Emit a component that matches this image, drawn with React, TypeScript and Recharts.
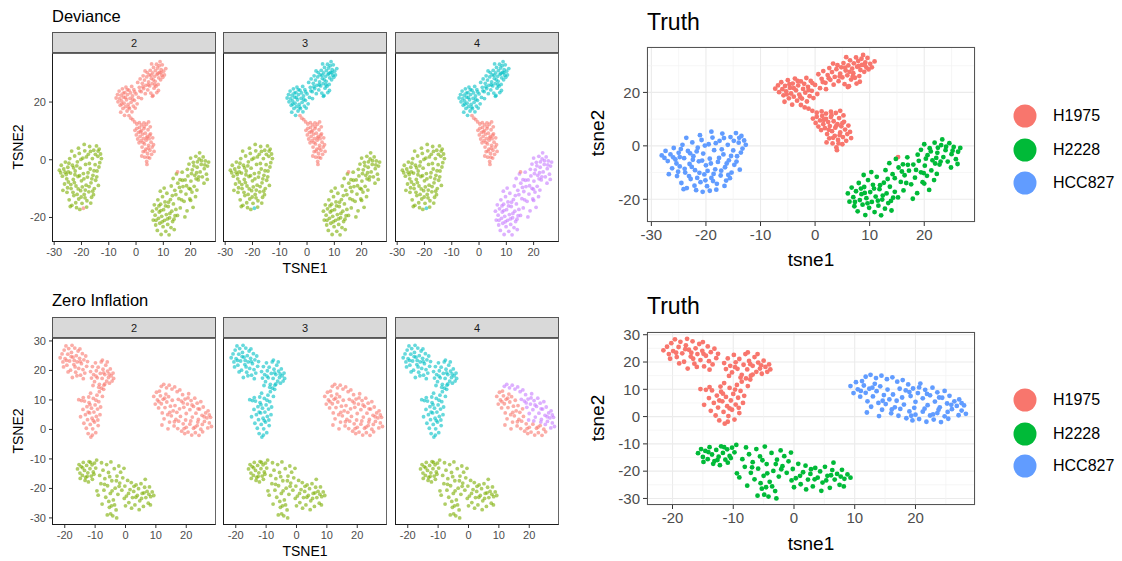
import React from "react";
import { ScatterChart, Scatter, XAxis, YAxis, CartesianGrid, ReferenceLine } from "recharts";

type Pt = [number, number];

// ---- top embedding (Deviance facets + upper Truth) ----
const dH1975Upper: Pt[] = [
  [0.6, 26.8], [1.2, 25.1], [1.5, 28.0], [1.9, 23.6], [2.3, 26.5], [2.6, 29.1], [2.8, 24.7], [3.1, 27.6], [3.4, 22.9], [3.6, 25.8],
  [3.9, 28.7], [4.1, 30.2], [4.3, 24.2], [4.6, 27.0], [4.8, 29.4], [5.0, 25.6], [5.2, 31.0], [5.4, 23.1], [5.6, 28.2], [5.9, 26.4],
  [6.1, 30.1], [6.2, 22.3], [6.4, 32.0], [6.6, 24.8], [6.8, 28.9], [7.0, 27.2], [7.1, 30.9], [7.3, 25.5], [7.5, 33.1], [7.7, 29.6],
  [7.9, 31.8], [8.1, 26.1], [8.3, 28.4], [8.5, 32.6], [8.6, 30.3], [8.8, 34.0], [9.0, 27.7], [9.2, 31.2], [9.4, 29.3], [9.6, 32.9],
  [9.8, 28.6], [10.1, 30.7], [10.4, 29.4], [10.9, 31.6], [6.0, 22.0], [2.0, 21.2], [8.2, 24.0], [3.3, 30.8], [5.7, 33.2], [7.6, 23.3],
  [2.5, 25.3], [4.5, 26.0], [5.5, 29.3], [6.9, 26.0], [8.0, 29.9], [9.1, 30.2], [6.3, 27.7],
  [-7.3, 21.4], [-6.8, 22.6], [-6.6, 20.1], [-6.2, 23.8], [-6.0, 21.2], [-5.8, 18.9], [-5.5, 22.4], [-5.3, 20.4], [-5.0, 24.6], [-4.8, 17.8],
  [-4.6, 21.7], [-4.4, 19.6], [-4.1, 23.3], [-3.9, 18.4], [-3.7, 25.2], [-3.5, 20.8], [-3.3, 16.9], [-3.1, 22.6], [-2.9, 19.2], [-2.6, 24.1],
  [-2.4, 17.7], [-2.2, 21.3], [-2.0, 23.2], [-1.8, 19.9], [-1.5, 16.6], [-1.3, 22.1], [-1.0, 18.6], [-0.8, 24.3], [-0.6, 20.6], [-0.3, 17.9],
  [0.0, 22.8], [0.4, 19.4], [0.9, 21.6], [-5.6, 16.5], [-4.2, 15.4], [1.4, 23.9], [-1.6, 25.4],
  [-5.2, 19.3], [-3.9, 21.6], [-2.7, 18.2], [-1.2, 20.9], [-4.7, 23.1], [-0.5, 23.5], [-3.2, 24.3],
];
const dH1975Lower: Pt[] = [
  [-2.6, 15.3], [-1.9, 14.4], [-1.2, 13.9], [-0.5, 13.1], [0.3, 12.4], [1.2, 12.9], [2.0, 12.1], [2.9, 12.8], [3.8, 12.3], [4.6, 13.1],
  [-0.4, 10.2], [0.1, 8.6], [0.3, 10.9], [0.6, 7.2], [0.9, 9.5], [1.1, 5.9], [1.3, 11.2], [1.5, 8.1], [1.8, 6.6], [2.0, 10.1],
  [2.2, 4.4], [2.4, 8.9], [2.6, 2.8], [2.7, 7.4], [2.9, 10.8], [3.1, 5.5], [3.2, 0.9], [3.4, 9.2], [3.6, 3.7], [3.7, 6.8],
  [3.9, -0.6], [4.1, 8.1], [4.2, 2.2], [4.4, 10.4], [4.6, 5.0], [4.8, 7.3], [5.0, 0.6], [5.1, 3.3], [5.3, 9.0], [5.5, 6.1],
  [5.7, 1.9], [5.9, 4.4], [6.1, 7.6], [6.4, 5.2], [6.6, 2.9], [4.0, -1.6], [2.1, 1.3], [5.2, 11.4],
  [1.6, 9.7], [2.5, 6.0], [3.3, 3.0], [3.9, 7.6], [4.5, 4.0], [5.0, 8.5], [3.0, 11.5], [4.3, 0.9],
];
const dH1975Stray: Pt[] = [[15.2, -4.2]];
const dHCC827: Pt[] = [
  [-28.1, -3.6], [-27.4, -1.9], [-27.0, -5.7], [-26.5, -3.2], [-26.2, -8.4], [-25.9, -0.8], [-25.6, -5.1], [-25.3, -11.3], [-25.0, -2.6], [-24.8, -7.7],
  [-24.5, -13.9], [-24.3, 0.4], [-24.0, -4.6], [-23.8, -10.0], [-23.5, -15.8], [-23.3, -1.9], [-23.0, -6.8], [-22.8, -12.4], [-22.5, 1.3], [-22.3, -3.9],
  [-22.0, -9.1], [-21.8, -16.6], [-21.5, -0.7], [-21.3, -5.8], [-21.0, -13.6], [-20.8, 2.2], [-20.5, -2.9], [-20.3, -10.7], [-20.0, -7.3], [-19.8, -15.1],
  [-19.5, 0.6], [-19.3, -4.8], [-19.0, -12.0], [-18.8, 3.1], [-18.5, -1.6], [-18.3, -8.8], [-18.0, -14.2], [-17.8, -6.0], [-17.5, 1.9], [-17.3, -11.1],
  [-17.0, 4.6], [-16.8, -3.2], [-16.5, -8.0], [-16.3, -13.0], [-16.0, 0.4], [-15.8, -5.4], [-15.5, 3.3], [-15.3, -10.0], [-15.0, -1.7], [-14.8, -7.1],
  [-14.5, 4.8], [-14.3, -3.9], [-14.0, 1.2], [-13.8, -8.9], [-13.5, 3.7], [-13.3, -1.0], [-13.0, 2.0], [-12.7, 0.4], [-26.8, -10.6], [-24.1, -16.2],
  [-22.1, -14.9], [-20.6, -17.2], [-18.1, -16.4], [-16.6, -15.0], [-21.1, 4.0], [-19.0, 5.3], [-17.1, -1.3], [-20.1, -12.9], [-22.6, -7.9], [-25.1, -9.7],
  [-23.6, 3.0], [-18.6, -10.5], [-15.6, -12.1],
  [-27.6, -4.5], [-26.0, -4.3], [-25.4, -6.6], [-24.6, -1.2], [-23.9, -8.6], [-23.1, -11.3], [-22.4, -5.2], [-21.7, -2.1], [-21.2, -10.1], [-20.7, -5.5],
  [-20.2, 0.1], [-19.7, -9.4], [-19.1, -6.6], [-18.7, -13.2], [-18.2, 1.0], [-17.6, -4.5], [-17.2, -9.3], [-16.7, 2.9], [-16.2, -6.6], [-15.9, -10.9],
  [-15.4, -3.8], [-14.9, 1.9], [-14.4, -5.9], [-13.9, 3.0], [-13.6, -2.5], [-22.9, -2.8], [-24.8, -4.2], [-21.6, -12.0],
];
const dHCC827Stray: Pt[] = [[-19.3, -16.8]];
const dH2228: Pt[] = [
  [6.0, -17.8], [6.3, -20.9], [6.7, -15.6], [7.0, -19.2], [7.2, -22.6], [7.5, -17.0], [7.8, -24.5], [8.0, -13.9], [8.2, -20.3], [8.5, -18.1],
  [8.7, -22.0], [9.0, -15.4], [9.2, -25.9], [9.4, -19.6], [9.7, -12.8], [9.9, -23.2], [10.1, -17.3], [10.4, -21.0], [10.6, -14.6], [10.9, -24.8],
  [11.1, -19.0], [11.3, -11.6], [11.6, -22.4], [11.8, -16.2], [12.1, -26.0], [12.3, -20.1], [12.6, -13.8], [12.8, -23.5], [13.1, -17.8], [13.4, -21.4],
  [13.7, -15.3], [14.0, -24.2], [14.3, -19.4], [14.6, -12.1], [8.9, -10.9], [10.3, -9.8],
  [7.3, -21.0], [8.4, -16.0], [9.6, -21.5], [10.8, -16.0], [11.5, -20.5], [12.4, -18.6], [13.3, -12.4], [9.1, -17.6], [11.9, -14.7], [13.9, -20.6],
  [12.9, -9.1], [13.6, -6.5], [14.2, -10.6], [14.8, -4.9], [15.3, -8.1], [15.7, -13.5], [16.1, -6.9], [16.4, -11.0], [16.9, -4.3], [17.2, -9.3],
  [17.6, -14.4], [18.0, -7.0], [18.3, -11.9], [18.7, -17.7], [19.0, -5.6], [19.4, -9.9], [19.7, -13.6], [20.1, -7.4], [20.5, -11.2], [20.9, -16.5],
  [21.3, -9.2], [21.8, -12.8], [22.3, -10.5], [16.2, -16.7], [15.2, -19.3], [17.9, -19.8], [14.6, -17.2], [18.8, -3.3], [20.0, -14.1], [22.0, -6.6],
  [15.9, -9.6], [17.0, -7.1], [18.5, -9.0], [19.9, -10.2], [16.7, -13.9],
  [19.4, -1.5], [20.0, 0.6], [20.6, -3.5], [21.0, -0.9], [21.5, -5.4], [21.9, 1.2], [22.4, -2.6], [22.8, -7.0], [23.1, 0.3], [23.5, -4.2],
  [23.9, -1.6], [24.3, -5.9], [24.6, 1.0], [25.0, -3.1], [25.4, -0.4], [25.8, -5.0], [26.2, -2.2], [26.6, -0.8], [24.9, -8.1], [23.3, 2.4],
  [26.1, -6.8], [22.2, -4.5], [21.2, -2.1], [23.0, -5.9], [24.0, -0.3], [25.2, -1.8], [22.5, -0.7], [20.3, -4.8],
];

// ---- bottom embedding (Zero Inflation facets + lower Truth) ----
const zH1975: Pt[] = [
  [-21.5, 24.3], [-20.9, 25.6], [-20.6, 22.9], [-20.2, 26.9], [-19.9, 24.0], [-19.6, 28.3], [-19.3, 21.8], [-19.0, 25.5], [-18.7, 27.4], [-18.4, 23.2],
  [-18.1, 20.1], [-17.8, 26.1], [-17.5, 17.6], [-17.3, 24.5], [-17.0, 22.0], [-16.7, 27.6], [-16.4, 19.4], [-16.2, 25.0], [-15.9, 22.9], [-15.6, 26.6],
  [-15.4, 20.7], [-15.1, 24.1], [-14.8, 18.4], [-14.5, 22.3], [-14.2, 25.7], [-14.0, 20.3], [-13.7, 23.6], [-13.4, 19.1], [-13.1, 24.9], [-12.8, 21.4],
  [-12.5, 23.0], [-18.9, 19.5], [-16.0, 18.2], [-20.4, 21.2], [-17.6, 28.5], [-15.0, 27.3], [-13.9, 17.2], [-16.9, 23.4],
  [-19.4, 23.4], [-17.9, 24.7], [-16.6, 21.2], [-14.9, 23.0],
  [-11.5, 19.6], [-11.2, 17.4], [-10.9, 21.3], [-10.5, 18.6], [-10.2, 16.2], [-9.9, 22.6], [-9.6, 19.9], [-9.3, 17.5], [-9.0, 21.1], [-8.6, 15.3],
  [-8.3, 19.0], [-8.0, 22.9], [-7.7, 17.3], [-7.4, 20.4], [-7.1, 15.0], [-6.8, 18.6], [-6.5, 21.8], [-6.2, 16.4], [-5.9, 19.8], [-5.6, 17.6],
  [-5.3, 15.7], [-5.0, 20.5], [-4.7, 18.2], [-4.4, 16.4], [-4.1, 19.1], [-3.9, 17.3], [-6.0, 22.9], [-8.8, 14.3], [-10.7, 14.9], [-7.6, 23.5],
  [-9.7, 18.1], [-7.2, 19.2], [-5.4, 18.8],
  [-15.4, 10.1], [-14.8, 4.3], [-14.5, 9.8], [-14.0, 6.8], [-13.7, 2.1], [-13.5, 9.6], [-13.2, 5.0], [-12.9, 0.4], [-12.7, 7.7], [-12.5, 3.3],
  [-12.3, -1.4], [-12.0, 9.1], [-11.8, 5.6], [-11.6, 1.7], [-11.4, -2.6], [-11.2, 7.2], [-11.0, 3.8], [-10.8, 0.2], [-10.6, 10.5], [-10.4, 5.9],
  [-10.2, 2.5], [-10.0, 8.3], [-9.8, -1.1], [-9.6, 4.4], [-9.4, 11.6], [-9.2, 6.9], [-9.0, 1.3], [-8.8, 9.4], [-8.6, 12.8], [-8.4, 5.0],
  [-8.2, 7.6], [-7.9, 14.0], [-7.6, 11.2], [-7.2, 13.6], [-6.8, 15.4], [-12.1, 11.0], [-13.9, 10.8], [-10.9, -1.9], [-9.1, 3.2], [-11.5, 12.3],
  [-12.3, 5.9], [-10.6, 3.0], [-11.7, 8.4], [-9.7, 9.9],
];
const zHCC827Left: Pt[] = [
  [9.3, 11.2], [9.8, 8.6], [10.2, 12.6], [10.5, 10.0], [10.9, 7.3], [11.2, 13.0], [11.5, 11.4], [11.8, 8.7], [12.1, 5.6], [12.4, 10.2],
  [12.7, 3.6], [13.0, 7.4], [13.3, 12.0], [13.6, 9.3], [13.9, 5.0], [14.2, 11.1], [14.5, 2.5], [14.8, 7.9], [15.1, 4.6], [15.4, 9.9],
  [15.7, 6.3], [16.0, 1.2], [16.3, 8.1], [16.6, 3.4], [16.9, 5.8], [17.2, 0.3], [17.5, 2.8], [17.8, 7.0], [18.1, 4.4], [18.5, -0.6],
  [19.0, 1.9], [19.5, -1.4], [20.0, 0.7], [20.6, -0.9], [21.2, 1.8], [21.8, -1.9], [22.4, 0.4], [23.0, -1.1], [23.6, 1.3], [24.2, -2.0],
  [24.8, 0.1], [25.4, -0.8], [12.0, 1.5], [14.0, 0.2], [11.0, 9.4], [12.9, 10.6], [14.6, 5.8], [16.1, 2.6], [19.3, 0.3], [22.9, 0.8],
];
const zHCC827Right: Pt[] = [
  [11.8, 14.6], [12.6, 15.3], [13.5, 14.1], [14.4, 15.0], [15.3, 13.7], [16.2, 14.4], [17.0, 12.8], [17.9, 13.4], [18.4, 9.6], [18.8, 11.8],
  [19.2, 7.5], [19.6, 10.3], [20.0, 5.4], [20.4, 8.6], [20.8, 12.1], [21.2, 6.7], [21.6, 9.8], [22.0, 4.2], [22.4, 7.8], [22.8, 10.6],
  [23.2, 5.5], [23.6, 8.9], [24.0, 3.4], [24.4, 6.9], [24.8, 9.4], [25.2, 4.8], [25.6, 7.6], [26.0, 2.7], [26.4, 5.6], [26.8, 3.9],
  [27.2, 6.3], [27.6, 2.2], [28.0, 4.1], [28.3, 1.0], [19.8, 3.2], [21.5, 2.9], [23.8, 2.5], [17.4, 10.2], [25.3, 1.7], [27.1, 0.5],
  [19.0, 9.0], [21.9, 8.3], [23.9, 7.0], [25.9, 4.3], [20.6, 10.7], [27.6, 4.9],
];
const zH2228: Pt[] = [
  [-15.8, -13.4], [-15.3, -11.9], [-15.0, -14.8], [-14.6, -12.6], [-14.2, -15.6], [-13.9, -11.2], [-13.5, -13.9], [-13.1, -16.3], [-12.8, -12.2], [-12.4, -14.7],
  [-12.0, -10.9], [-11.7, -13.3], [-11.3, -15.8], [-11.0, -12.0], [-10.6, -14.4], [-10.2, -11.4], [-9.8, -13.1], [-9.5, -10.4], [-13.3, -17.3], [-14.9, -16.6],
  [-12.2, -17.8], [-10.9, -16.9], [-14.1, -13.0], [-12.6, -15.9], [-11.5, -11.2], [-10.4, -15.2],
  [-9.4, -20.8], [-9.0, -22.3], [-8.5, -15.6], [-8.1, -18.4], [-7.7, -25.3], [-7.4, -13.8], [-7.1, -20.6], [-6.8, -16.7], [-6.5, -23.0], [-6.2, -11.9],
  [-5.9, -19.1], [-5.6, -14.6], [-5.3, -26.4], [-5.0, -21.7], [-4.8, -11.0], [-4.5, -17.4], [-4.2, -29.3], [-4.0, -23.9], [-3.7, -13.3], [-3.4, -19.9],
  [-3.1, -27.3], [-2.8, -15.8], [-2.5, -22.0], [-2.2, -12.4], [-1.9, -18.2], [-1.6, -14.5], [-1.2, -20.6], [-0.9, -16.4], [-0.5, -13.2], [-4.9, -28.6],
  [-3.6, -25.6], [-6.0, -29.0], [-7.9, -11.3], [-2.9, -30.0], [-5.5, -24.4],
  [-6.9, -18.6], [-5.2, -16.0], [-4.4, -20.8], [-3.0, -17.4], [-2.1, -19.3], [-4.6, -25.9],
  [-0.2, -19.2], [0.3, -22.6], [0.7, -17.3], [1.1, -24.8], [1.5, -20.4], [1.9, -18.0], [2.3, -23.1], [2.7, -21.0], [3.1, -25.6], [3.5, -18.8],
  [3.9, -22.4], [4.3, -20.1], [4.7, -24.2], [5.1, -18.4], [5.5, -21.7], [5.9, -26.1], [6.3, -19.6], [6.7, -23.1], [7.1, -21.0], [7.5, -25.0],
  [7.9, -19.5], [8.3, -22.8], [8.8, -21.2], [9.3, -22.4], [0.0, -25.9], [2.0, -26.7], [4.5, -27.2], [6.5, -16.9], [8.2, -25.6], [-0.4, -23.4],
  [1.0, -21.7], [3.4, -23.0], [5.3, -23.4], [6.1, -21.5], [7.7, -22.0], [2.8, -19.3],
];

const topXTicks = [-30, -20, -10, 0, 10, 20];
const topYTicks = [-20, 0, 20];
const topXMinor = [-25, -15, -5, 5, 15, 25];
const topYMinor = [-10, 10, 30];
const botXTicks = [-20, -10, 0, 10, 20];
const botYTicks = [-30, -20, -10, 0, 10, 20, 30];
const botXMinor = [-15, -5, 5, 15, 25];
const botYMinor = [-25, -15, -5, 5, 15, 25];
const truthLabels = ["H1975", "H2228", "HCC827"];

const C1 = "#F8766D", C2 = "#7CAE00", C3 = "#00BFC4", C4 = "#C77CFF";
const T1 = "#F8766D", T2 = "#00BA38", T3 = "#619CFF";

const TOP_X: [number, number] = [-30.8, 29.3];
const TOP_Y: [number, number] = [-28.5, 37];
const BOT_X: [number, number] = [-24.2, 29.8];
const BOT_Y: [number, number] = [-32.4, 31];

const rows = (...sets: Pt[][]) => sets.flat().map(([x, y]) => ({ x, y }));
type Layer = { data: { x: number; y: number }[]; color: string };

const dot = (color: string, r: number, op: number) => (p: any) =>
  <circle cx={p.cx} cy={p.cy} r={r} fill={color} fillOpacity={op} />;

function Txt({ x, y, size, children, rotate, left, color = "#000" }: any) {
  return (
    <div style={{
      position: "absolute", left: x, top: y, fontSize: size, lineHeight: 1, color, whiteSpace: "nowrap",
      transform: `${left ? "translate(0,-50%)" : "translate(-50%,-50%)"}${rotate ? " rotate(-90deg)" : ""}`,
    }}>{children}</div>
  );
}

function Facet({ left, top, plotH, strip, layers, xDomain, yDomain, xTicks, yTicks, showY }: any) {
  const W = 164, STRIP = 21, YW = 34, XH = 26;
  return (
    <div style={{ position: "absolute", left: left - YW, top }}>
      <div style={{
        position: "absolute", left: YW, top: 0, width: W, height: STRIP, boxSizing: "border-box",
        background: "#D9D9D9", border: "1px solid #555", fontSize: 11, color: "#1A1A1A",
        display: "flex", alignItems: "center", justifyContent: "center",
      }}>{strip}</div>
      <ScatterChart width={W + YW + 12} height={STRIP + plotH + XH}
        margin={{ top: STRIP, right: 12, bottom: 0, left: showY ? 0 : YW }}>
        <XAxis type="number" dataKey="x" domain={xDomain} ticks={xTicks} allowDataOverflow interval={0}
          height={XH} axisLine={false} tickSize={3} tickMargin={3} stroke="#333"
          tick={{ fontSize: 11, fill: "#4D4D4D" }} />
        <YAxis type="number" dataKey="y" domain={yDomain} ticks={yTicks} allowDataOverflow interval={0}
          width={YW} hide={!showY} axisLine={false} tickSize={3} tickMargin={3} stroke="#333"
          tick={{ fontSize: 11, fill: "#4D4D4D" }} />
        {layers.map((l: Layer, i: number) => (
          <Scatter key={i} data={l.data} isAnimationActive={false} shape={dot(l.color, 1.9, 0.6)} />
        ))}
      </ScatterChart>
      <div style={{
        position: "absolute", left: YW, top: STRIP, width: W, height: plotH, boxSizing: "border-box",
        borderTop: "1px solid #666", borderRight: "1px solid #666",
        borderLeft: "1.5px solid #1A1A1A", borderBottom: "1.5px solid #1A1A1A", pointerEvents: "none",
      }} />
    </div>
  );
}

function Truth({ top, plotH, layers, xDomain, yDomain, xTicks, yTicks, xMinor, yMinor }: any) {
  const L = 647, W = 328, YW = 60, XH = 34, PAD = 10;
  return (
    <div style={{ position: "absolute", left: L - YW, top: top - PAD }}>
      <ScatterChart width={YW + W + 14} height={plotH + XH + PAD} margin={{ top: PAD, right: 14, bottom: 0, left: 0 }}>
        {xMinor.map((v: number) => <ReferenceLine key={"x" + v} x={v} stroke="#F2F2F2" strokeWidth={0.7} />)}
        {yMinor.map((v: number) => <ReferenceLine key={"y" + v} y={v} stroke="#F2F2F2" strokeWidth={0.7} />)}
        <CartesianGrid stroke="#EBEBEB" strokeWidth={1.1} />
        <XAxis type="number" dataKey="x" domain={xDomain} ticks={xTicks} allowDataOverflow interval={0}
          height={XH} axisLine={false} tickSize={4} tickMargin={3} stroke="#333"
          tick={{ fontSize: 15, fill: "#4D4D4D" }} />
        <YAxis type="number" dataKey="y" domain={yDomain} ticks={yTicks} allowDataOverflow interval={0}
          width={YW} axisLine={false} tickSize={4} tickMargin={3} stroke="#333"
          tick={{ fontSize: 15, fill: "#4D4D4D" }} />
        {layers.map((l: Layer, i: number) => (
          <Scatter key={i} data={l.data} isAnimationActive={false} shape={dot(l.color, 2.4, 1)} />
        ))}
      </ScatterChart>
      <div style={{
        position: "absolute", left: YW, top: PAD, width: W, height: plotH, boxSizing: "border-box",
        border: "1px solid #555", pointerEvents: "none",
      }} />
    </div>
  );
}

function TruthLegend({ ys }: { ys: number[] }) {
  const cols = [T1, T2, T3];
  return (
    <>
      {truthLabels.map((name, i) => (
        <div key={name} style={{ position: "absolute", left: 1013, top: ys[i] - 12, height: 24, display: "flex", alignItems: "center" }}>
          <svg width={24} height={24}><circle cx={12} cy={12} r={11.5} fill={cols[i]} /></svg>
          <span style={{ marginLeft: 16, fontSize: 16, color: "#000" }}>{name}</span>
        </div>
      ))}
    </>
  );
}

const LEFTS = [52, 223, 395];

export default function App() {
  const dev: Layer[][] = [
    [
      { data: rows(dHCC827, dH2228), color: C2 },
      { data: rows(dH1975Upper, dH1975Lower, dH1975Stray, dHCC827Stray), color: C1 },
    ],
    [
      { data: rows(dHCC827, dH2228), color: C2 },
      { data: rows(dH1975Lower, dH1975Stray), color: C1 },
      { data: rows(dH1975Upper, dHCC827Stray), color: C3 },
    ],
    [
      { data: rows(dHCC827), color: C2 },
      { data: rows(dH2228), color: C4 },
      { data: rows(dH1975Lower, dH1975Stray), color: C1 },
      { data: rows(dH1975Upper, dHCC827Stray), color: C3 },
    ],
  ];
  const zero: Layer[][] = [
    [
      { data: rows(zH2228), color: C2 },
      { data: rows(zH1975, zHCC827Left, zHCC827Right), color: C1 },
    ],
    [
      { data: rows(zH2228), color: C2 },
      { data: rows(zHCC827Left, zHCC827Right), color: C1 },
      { data: rows(zH1975), color: C3 },
    ],
    [
      { data: rows(zH2228), color: C2 },
      { data: rows(zHCC827Left), color: C1 },
      { data: rows(zHCC827Right), color: C4 },
      { data: rows(zH1975), color: C3 },
    ],
  ];
  const truthTop: Layer[] = [
    { data: rows(dH1975Upper, dH1975Lower, dH1975Stray), color: T1 },
    { data: rows(dH2228), color: T2 },
    { data: rows(dHCC827, dHCC827Stray), color: T3 },
  ];
  const truthBot: Layer[] = [
    { data: rows(zH1975), color: T1 },
    { data: rows(zH2228), color: T2 },
    { data: rows(zHCC827Left, zHCC827Right), color: T3 },
  ];

  return (
    <div style={{
      position: "absolute", left: 0, top: 0, width: 1122, height: 561, background: "#fff", overflow: "hidden",
      fontFamily: '"Liberation Sans", Arial, sans-serif',
    }}>
      <Txt x={52} y={16} size={16.5} left>Deviance</Txt>
      {dev.map((layers, i) => (
        <Facet key={i} left={LEFTS[i]} top={32} plotH={189} strip={String(i + 2)} layers={layers}
          xDomain={TOP_X} yDomain={TOP_Y} xTicks={topXTicks} yTicks={topYTicks} showY={i === 0} />
      ))}
      <Txt x={305} y={268} size={14}>TSNE1</Txt>
      <Txt x={18} y={147} size={14} rotate>TSNE2</Txt>

      <Txt x={52} y={300} size={16.5} left>Zero Inflation</Txt>
      {zero.map((layers, i) => (
        <Facet key={i} left={LEFTS[i]} top={317} plotH={187} strip={String(i + 2)} layers={layers}
          xDomain={BOT_X} yDomain={BOT_Y} xTicks={botXTicks} yTicks={botYTicks} showY={i === 0} />
      ))}
      <Txt x={305} y={551} size={14}>TSNE1</Txt>
      <Txt x={18} y={431} size={14} rotate>TSNE2</Txt>

      <Txt x={647} y={22} size={23} left>Truth</Txt>
      <Truth top={47} plotH={175} layers={truthTop} xDomain={TOP_X} yDomain={TOP_Y}
        xTicks={topXTicks} yTicks={topYTicks} xMinor={topXMinor} yMinor={topYMinor} />
      <Txt x={811} y={259} size={19}>tsne1</Txt>
      <Txt x={597} y={133} size={19} rotate>tsne2</Txt>
      <TruthLegend ys={[116, 150, 183]} />

      <Txt x={647} y={306} size={23} left>Truth</Txt>
      <Truth top={332} plotH={173} layers={truthBot} xDomain={BOT_X} yDomain={BOT_Y}
        xTicks={botXTicks} yTicks={botYTicks} xMinor={botXMinor} yMinor={botYMinor} />
      <Txt x={811} y={543} size={19}>tsne1</Txt>
      <Txt x={597} y={418} size={19} rotate>tsne2</Txt>
      <TruthLegend ys={[400, 434, 466]} />
    </div>
  );
}
